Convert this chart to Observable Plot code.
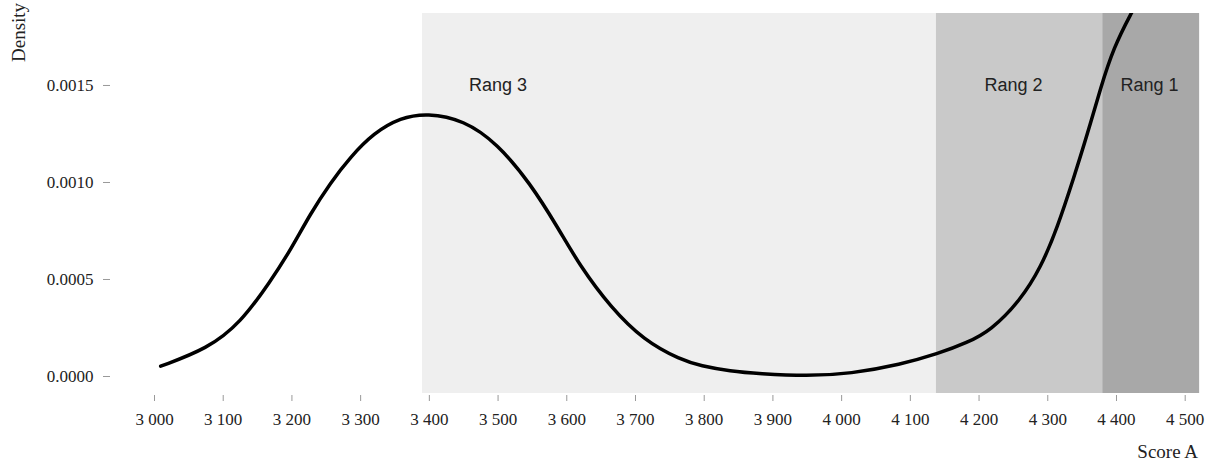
<!DOCTYPE html>
<html>
<head>
<meta charset="utf-8">
<script src="https://cdn.jsdelivr.net/npm/d3@7"></script>
<script src="https://cdn.jsdelivr.net/npm/@observablehq/plot@0.6"></script>
<style>
  html, body { margin: 0; padding: 0; background: #ffffff; }
  #chart svg { display: block; }
</style>
</head>
<body>
<div id="chart"></div>
<script>
// Rank bands
const bandNames = ["Rang 3", "Rang 2", "Rang 1"];
const bandStart = [3390, 4138, 4380];
const bandEnd = [4138, 4380, 4521];
const bandLabelX = [3500, 4250, 4448];
const bandColors = ["#efefef", "#c9c9c9", "#a8a8a8"];
const bandLabelY = 0.0015;

// Density curve
const scoreX = [3009, 3077, 3125, 3169, 3198, 3227, 3256, 3285, 3319, 3358, 3397, 3450, 3499, 3547, 3587, 3620, 3664, 3712, 3766, 3795, 3838, 3880, 3950, 4013, 4086, 4140, 4183, 4217, 4260, 4290, 4314, 4338, 4358, 4377, 4396, 4421, 4440];
const density = [0.000053, 0.000143, 0.000275, 0.000492, 0.000652, 0.00084, 0.000998, 0.001131, 0.001255, 0.001334, 0.001358, 0.001322, 0.001201, 0.000995, 0.000768, 0.000565, 0.000356, 0.000186, 0.000085, 0.000055, 0.000027, 0.000014, 0.000002, 0.000014, 0.000062, 0.000117, 0.000175, 0.000237, 0.000392, 0.000562, 0.000768, 0.001026, 0.001253, 0.00149, 0.001696, 0.001871, 0.00199];

// Axis ticks
const xTicks = [3000, 3100, 3200, 3300, 3400, 3500, 3600, 3700, 3800, 3900, 4000, 4100, 4200, 4300, 4400, 4500];
const yTicks = [0, 0.0005, 0.001, 0.0015];
const xTitle = "Score A";
const yTitle = "Density";

const bands = bandNames.map((name, i) => ({name, start: bandStart[i], end: bandEnd[i], labelX: bandLabelX[i], color: bandColors[i]}));
const curve = scoreX.map((x, i) => ({x, y: density[i]}));
const fmtX = d => d3.format(",")(d).replace(",", " ");

const chart = Plot.plot({
  width: 1205,
  height: 461,
  marginLeft: 154,
  marginRight: 20.3,
  marginTop: 13,
  marginBottom: 68,
  style: {fontFamily: "'Liberation Serif', 'Times New Roman', serif", fontSize: "17px", background: "#ffffff"},
  x: {domain: [3000, 4500]},
  y: {domain: [-0.0000876, 0.001871]},
  color: {type: "identity"},
  marks: [
    Plot.rect(bands, {x1: "start", x2: "end", fill: "color"}),
    Plot.text(bands, {x: "labelX", y: () => bandLabelY, text: "name", fontFamily: "'Liberation Sans', Arial, sans-serif", fontSize: 18, fill: "#222"}),
    Plot.line(curve, {x: "x", y: "y", curve: "basis", stroke: "#000", strokeWidth: 3.5, clip: true}),
    Plot.axisX({ticks: xTicks, tickFormat: fmtX, tickSize: 6, tickPadding: 11, dy: 2, stroke: "#999", fill: "#222", label: null}),
    Plot.axisY({ticks: yTicks, tickFormat: d3.format(".4f"), tickSize: 7, tickPadding: 10, dx: -44, stroke: "#999", fill: "#222", label: null})
  ]
});

const svg = d3.select(chart);
svg.append("text")
  .attr("x", 1198).attr("y", 458)
  .attr("text-anchor", "end")
  .attr("font-family", "'Liberation Serif', serif")
  .attr("font-size", 19)
  .attr("fill", "#222")
  .text(xTitle);
svg.append("text")
  .attr("transform", "translate(25,62) rotate(-90)")
  .attr("text-anchor", "start")
  .attr("font-family", "'Liberation Serif', serif")
  .attr("font-size", 19)
  .attr("fill", "#222")
  .text(yTitle);

document.getElementById("chart").appendChild(chart);
</script>
</body>
</html>
